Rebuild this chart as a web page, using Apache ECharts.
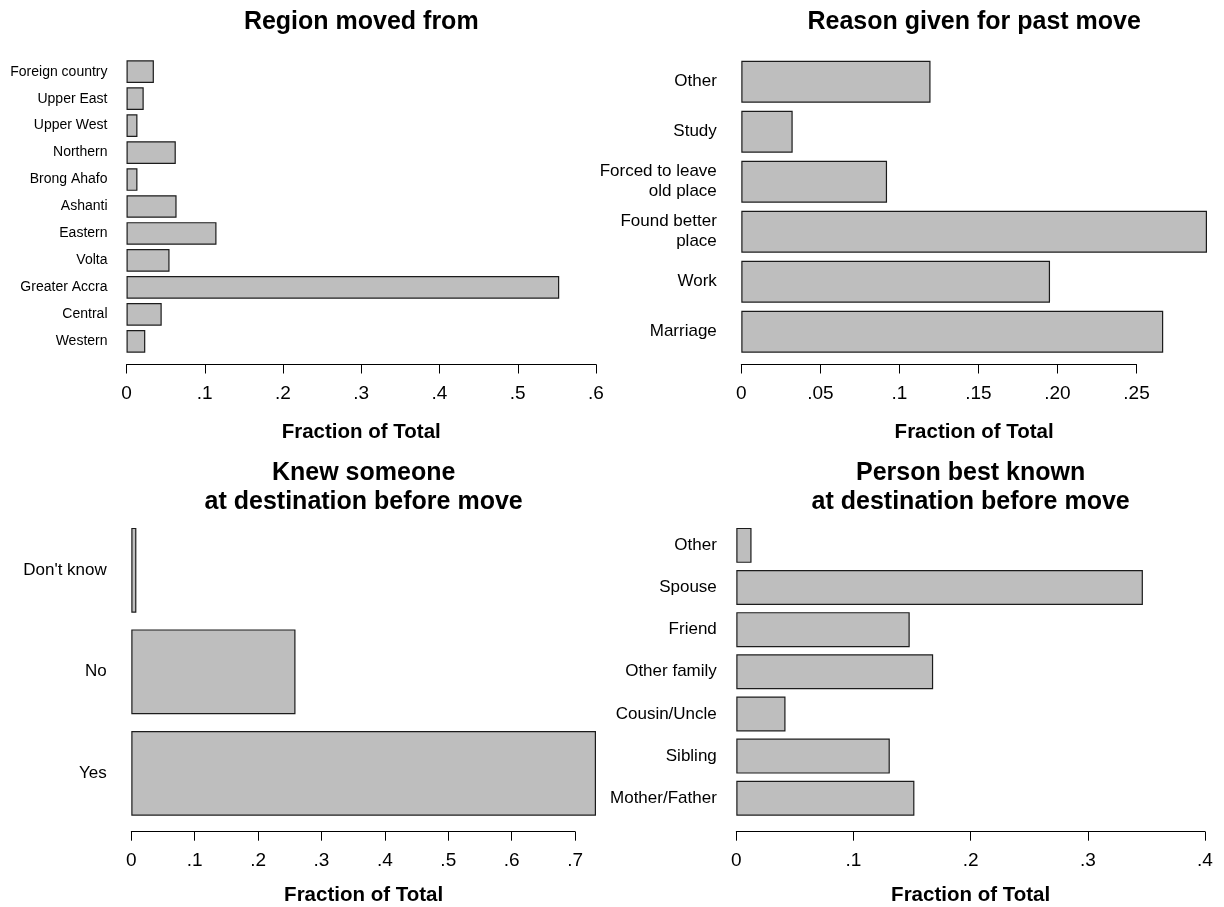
<!DOCTYPE html>
<html>
<head>
<meta charset="utf-8">
<title>Migration history</title>
<script src="https://cdn.jsdelivr.net/npm/echarts@6/dist/echarts.min.js"></script>
<style>
  html, body { margin: 0; padding: 0; background: #fff; }
  #chart { width: 1224px; height: 907px; }
</style>
</head>
<body>
<div id="chart"></div>
<script>
// Region moved from (top to bottom)
const regionNames = ['Foreign country', 'Upper East', 'Upper West', 'Northern', 'Brong Ahafo',
  'Ashanti', 'Eastern', 'Volta', 'Greater Accra', 'Central', 'Western'];
const regionShares = [0.035, 0.022, 0.014, 0.063, 0.014, 0.064, 0.115, 0.055, 0.553, 0.045, 0.024];
const regionTicks = ['0', '.1', '.2', '.3', '.4', '.5', '.6'];

// Reason given for past move
const reasonNames = ['Other', 'Study', 'Forced to leave\nold place', 'Found better\nplace', 'Work', 'Marriage'];
const reasonShares = [0.1197, 0.0325, 0.0922, 0.2946, 0.1953, 0.2669];
const reasonTicks = ['0', '.05', '.1', '.15', '.20', '.25'];

// Knew someone at destination before move
const knewNames = ["Don't know", 'No', 'Yes'];
const knewShares = [0.008, 0.259, 0.733];
const knewTicks = ['0', '.1', '.2', '.3', '.4', '.5', '.6', '.7'];

// Person best known at destination before move
const personNames = ['Other', 'Spouse', 'Friend', 'Other family', 'Cousin/Uncle', 'Sibling', 'Mother/Father'];
const personShares = [0.013, 0.347, 0.148, 0.168, 0.042, 0.131, 0.152];
const personTicks = ['0', '.1', '.2', '.3', '.4'];

const FONT = '"Liberation Sans", Arial, Helvetica, sans-serif';
const BAR_FILL = '#bebebe';
const BAR_EDGE = '#1c1c1c';

const grids = [], xAxes = [], yAxes = [], series = [], texts = [];

function addPanel(frame, names, shares, ticks, title) {
  const k = grids.length;
  const step = parseFloat(ticks[1]);
  const last = parseFloat(ticks[ticks.length - 1]);
  const extent = Math.max(last, Math.max.apply(null, shares));
  const w = frame.right - frame.left;
  const axisW = w * last / extent;

  // plotting region for the bars
  grids.push({ left: frame.left, top: frame.top, width: w, height: frame.bottom - frame.top });
  // axis strip, only as long as the labelled ticks
  grids.push({ left: frame.left, top: frame.axisY - 10, width: axisW, height: 10 });

  xAxes.push({
    gridIndex: k, type: 'value', min: 0, max: extent,
    axisLine: { show: false }, axisTick: { show: false }, axisLabel: { show: false },
    splitLine: { show: false },
    name: 'Fraction of Total', nameLocation: 'middle',
    nameGap: frame.axisY - frame.bottom + 57,
    nameTextStyle: { fontFamily: FONT, fontSize: 20.5, fontWeight: 'bold', color: '#000' }
  });
  yAxes.push({
    gridIndex: k, type: 'category', data: names, inverse: true,
    axisLine: { show: false }, axisTick: { show: false }, splitLine: { show: false },
    axisLabel: {
      margin: frame.labelGap, fontFamily: FONT, fontSize: frame.labelSize,
      lineHeight: 20, color: '#000', align: 'right', interval: 0
    }
  });

  xAxes.push({
    gridIndex: k + 1, type: 'value', min: 0, max: last, interval: step,
    axisLine: { show: true, lineStyle: { color: '#000', width: 1 } },
    axisTick: { show: true, length: 9, lineStyle: { color: '#000', width: 1 } },
    splitLine: { show: false },
    axisLabel: {
      margin: 19.5, fontFamily: FONT, fontSize: 19, color: '#000',
      showMinLabel: true, showMaxLabel: true,
      formatter: function (v) { return ticks[Math.round(v / step)]; }
    }
  });
  yAxes.push({ gridIndex: k + 1, type: 'value', show: false });

  series.push({
    type: 'bar', xAxisIndex: k, yAxisIndex: k, data: shares,
    barCategoryGap: frame.gap, silent: true, animation: false,
    itemStyle: { color: BAR_FILL, borderColor: BAR_EDGE, borderWidth: 1.2 }
  });

  texts.push({
    type: 'text', x: (frame.left + frame.right) / 2, y: frame.titleTop,
    style: {
      text: title, align: 'center', verticalAlign: 'top',
      font: 'bold 25px ' + FONT, lineHeight: 29, fill: '#000'
    }
  });
}

addPanel({ left: 126.5, right: 596, top: 58.2, bottom: 354.8, axisY: 364.5, labelGap: 19, labelSize: 14, gap: '16%', titleTop: 8 },
  regionNames, regionShares, regionTicks, 'Region moved from');
addPanel({ left: 741.3, right: 1207, top: 56.7, bottom: 356.7, axisY: 364.5, labelGap: 24.5, labelSize: 17, gap: '16%', titleTop: 8 },
  reasonNames, reasonShares, reasonTicks, 'Reason given for past move');
addPanel({ left: 131.3, right: 596, top: 519.5, bottom: 827.8, axisY: 831.7, labelGap: 24.5, labelSize: 17, gap: '16.5%', titleTop: 459 },
  knewNames, knewShares, knewTicks, 'Knew someone\nat destination before move');
addPanel({ left: 736.3, right: 1205, top: 524.3, bottom: 823, axisY: 831.7, labelGap: 19.5, labelSize: 17, gap: '17%', titleTop: 459 },
  personNames, personShares, personTicks, 'Person best known\nat destination before move');

const chart = echarts.init(document.getElementById('chart'), null, { renderer: 'canvas' });
chart.setOption({
  backgroundColor: '#fff',
  animation: false,
  textStyle: { fontFamily: FONT },
  grid: grids,
  xAxis: xAxes,
  yAxis: yAxes,
  series: series,
  graphic: texts
});
</script>
</body>
</html>
